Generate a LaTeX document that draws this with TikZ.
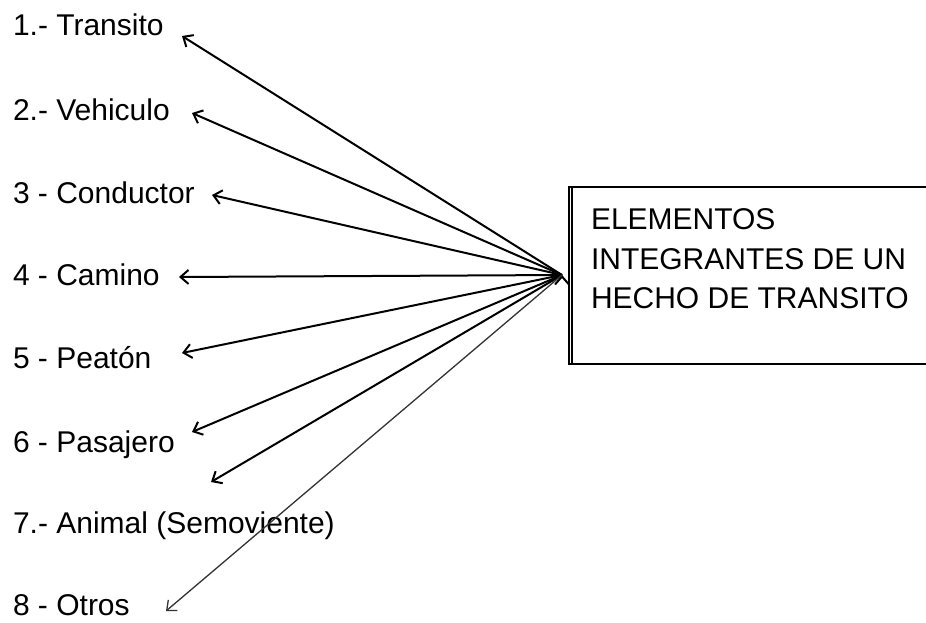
\documentclass[tikz,border=0pt]{standalone}
\usepackage{fontspec}
\setmainfont{Liberation Sans}
\usetikzlibrary{arrows.meta}

\begin{document}
\begin{tikzpicture}[->,>={Straight Barb[length=8pt,width=14pt]},x=1pt,y=1pt,line width=2pt,
  item/.style={anchor=base west,inner sep=0pt,font=\fontsize{30}{36}\selectfont},
  elembox/.style={draw,-,line width=2pt,minimum width=370pt,minimum height=177pt,anchor=west,inner sep=0pt},
  faint/.style={draw=black!80,line width=1.3pt}]

  \useasboundingbox (0,0) rectangle (926,-622);
  \clip (0,0) rectangle (926,-622);

  % labels on the left
  \node[item] (l1) at (12,-35) {1.- Transito};
  \node[item] (l2) at (12,-120) {2.- Vehiculo};
  \node[item] (l3) at (12,-203) {3 - Conductor};
  \node[item] (l4) at (12,-285) {4 - Camino};
  \node[item] (l5) at (12,-368) {5 - Peatón};
  \node[item] (l6) at (12,-452) {6 - Pasajero};
  \node[item] (l7) at (12,-533) {7.- Animal (Semoviente)};
  \node[item] (l8) at (12,-615) {8 - Otros};

  % box on the right
  \node[elembox] (elem) at (568,-275.5) {};
  \draw[-,line width=1.5pt] ([xshift=4pt]elem.north west) -- ([xshift=4pt]elem.south west);
  \node[anchor=north west,inner sep=0pt,align=left,font=\fontsize{30}{39.5}\selectfont]
    (title) at (590,-208) {ELEMENTOS\\INTEGRANTES DE UN\\HECHO DE TRANSITO};

  % arrow ends
  \coordinate (hub) at (562,-275);
  \coordinate (t1) at (182,-36);
  \coordinate (t2) at (192,-113);
  \coordinate (t3) at (212,-195);
  \coordinate (t4) at (179,-277);
  \coordinate (t5) at (182,-353);
  \coordinate (t6) at (192,-432);
  \coordinate (t7) at (211,-482);
  \coordinate (t8) at (166,-611);

  \path[draw]
    (hub) edge (t1)
          edge (t2)
          edge (t3)
          edge (t4)
          edge (t5)
          edge (t6)
          edge (t7)
          edge [faint] (t8);
\end{tikzpicture}
\end{document}
